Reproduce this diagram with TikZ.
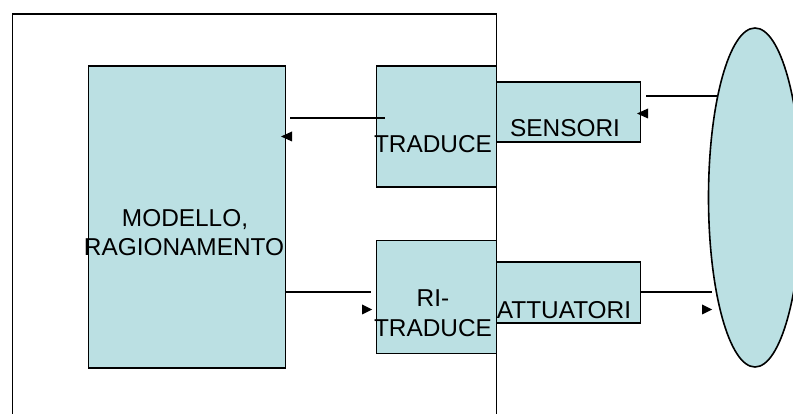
\documentclass[tikz,border=0pt]{standalone}
\usepackage{fontspec}
\usetikzlibrary{shapes.geometric}
\setmainfont{Liberation Sans}
\definecolor{boxfill}{RGB}{187,224,227}
\tikzset{
  box/.style={draw=black, line width=1.6pt, fill=boxfill, rectangle, inner sep=0pt},
  lbl/.style={font=\fontsize{24.4}{30}\selectfont, inner sep=0pt, align=center, anchor=base},
  conn/.style={draw=black, line width=1.6pt},
  head/.style={fill=black, draw=none}
}
\begin{document}
\begin{tikzpicture}[x=1pt,y=-1pt]
\useasboundingbox (0,0) rectangle (793,414);
% outer frame (bottom open, runs off the page)
\draw[line width=1.6pt] (12.5,420) -- (12.5,14) -- (496.5,14) -- (496.5,420);
% ellipse (right part runs off the page)
\node[box, ellipse, minimum width=93pt, minimum height=339pt] (world) at (755,197.5) {};
% boxes
\node[box, minimum width=197pt, minimum height=302pt] (model) at (187,217) {};
\node[box, minimum width=120pt, minimum height=121pt] (trad) at (436.5,126.5) {};
\node[box, minimum width=144pt, minimum height=60pt] (sens) at (568.5,112) {};
\node[box, minimum width=120pt, minimum height=113pt] (ritrad) at (436.5,297) {};
\node[box, minimum width=144pt, minimum height=61pt] (att) at (568.5,292.5) {};
% labels
\node[lbl] (tmodel1) at (185,227) {MODELLO,};
\node[lbl] (tmodel2) at (184,256) {RAGIONAMENTO};
\node[lbl] (ttrad) at (433,153) {TRADUCE};
\node[lbl] (tsens) at (565,137) {SENSORI};
\node[lbl] (tritrad1) at (433,307) {RI-};
\node[lbl] (tritrad2) at (433,337) {TRADUCE};
\node[lbl] (tatt) at (564,319) {ATTUATORI};
% connectors (lines with detached heads)
\coordinate (c1a) at (290,118); \coordinate (c1b) at (385,118);
\draw[conn] (c1a) -- (c1b);
\fill[head] (281,136.5) -- (292,131.5) -- (292,141.5) -- cycle;
\coordinate (c2a) at (646,96); \coordinate (c2b) at (717,96);
\draw[conn] (c2a) -- (c2b);
\fill[head] (637,113.5) -- (648,108.5) -- (648,118.5) -- cycle;
\coordinate (c3b) at (371,292);
\draw[conn] (model.east |- c3b) -- (c3b);
\fill[head] (372,309.5) -- (362,304.5) -- (362,314.5) -- cycle;
\coordinate (c4b) at (712,292);
\draw[conn] (att.east |- c4b) -- (c4b);
\fill[head] (712,309.5) -- (702,304.5) -- (702,314.5) -- cycle;
\end{tikzpicture}
\end{document}
